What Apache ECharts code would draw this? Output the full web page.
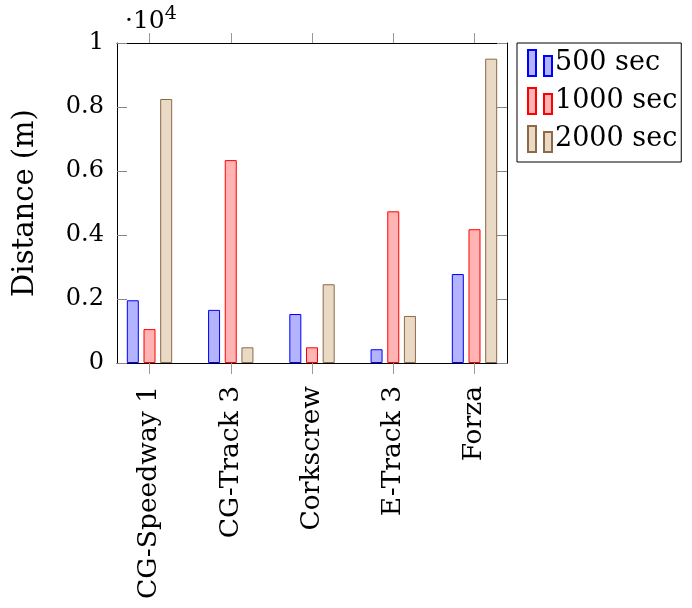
<!DOCTYPE html>
<html><head><meta charset="utf-8">
<script src="https://cdn.jsdelivr.net/npm/echarts@6/dist/echarts.min.js"></script>
<style>html,body{margin:0;padding:0;background:#fff}#c{width:692px;height:608px}</style>
</head><body><div id="c"></div>
<script>
const categories = ['CG-Speedway 1', 'CG-Track 3', 'Corkscrew', 'E-Track 3', 'Forza'];
const seriesNames = ['500 sec', '1000 sec', '2000 sec'];
const s500 = [1960, 1660, 1530, 430, 2780];
const s1000 = [1060, 6340, 490, 4740, 4180];
const s2000 = [8250, 490, 2460, 1470, 9510];
const yTicks = [0, 2000, 4000, 6000, 8000, 10000];

const FONT = 'DejaVu Serif';
const catIdx = categories.map((_, i) => i);
const fills = ['#b3b3ff', '#ffb3b3', '#ead9c4'];
const strokes = ['#0000ff', '#ff0000', '#8c6a48'];
const values = [s500, s1000, s2000];

const chart = echarts.init(document.getElementById('c'), null, {renderer: 'canvas'});
const xBase = {
  type: 'value', min: -0.4, max: 4.4,
  splitLine: {show: false},
  axisLine: {show: true, onZero: false, lineStyle: {color: '#000', width: 1}},
};
const yBase = {
  type: 'value', min: 0, max: 10000, interval: 2000,
  splitLine: {show: false},
  axisLine: {show: true, onZero: false, lineStyle: {color: '#000', width: 1}},
  axisTick: {show: true, inside: true, length: 10, lineStyle: {color: '#888'}},
};
chart.setOption({
  animation: false,
  grid: {left: 117, top: 43, width: 390, height: 320, containLabel: false},
  xAxis: [
    Object.assign({}, xBase, {
      position: 'bottom',
      axisTick: {show: true, inside: false, length: 11, customValues: catIdx, lineStyle: {color: '#999'}},
      axisLabel: {show: true, customValues: catIdx, rotate: 90, margin: 23,
        formatter: v => categories[Math.round(v)], fontFamily: FONT, fontSize: 26.5, color: '#000'}
    }),
    Object.assign({}, xBase, {
      position: 'top',
      axisTick: {show: true, inside: false, length: 10, customValues: catIdx, lineStyle: {color: '#999'}},
      axisLabel: {show: false}
    })
  ],
  yAxis: [
    Object.assign({}, yBase, {
      position: 'left',
      name: 'Distance (m)', nameLocation: 'middle', nameGap: 77, nameRotate: 90,
      nameTextStyle: {fontFamily: FONT, fontSize: 29, color: '#000'},
      axisLabel: {show: true, margin: 13, fontFamily: FONT, fontSize: 24, color: '#000',
        customValues: yTicks, formatter: v => String(v / 10000)}
    }),
    Object.assign({}, yBase, {position: 'right', axisLabel: {show: false}})
  ],
  legend: {
    orient: 'vertical', left: 517, top: 43,
    padding: [6, 4, 9, 10], itemGap: 10,
    borderColor: '#000', borderWidth: 1,
    itemWidth: 24, itemHeight: 26,
    icon: 'path://M0,0h8v26h-8z M16,6h8v20h-8z',
    textStyle: {fontFamily: FONT, fontSize: 27, color: '#000', padding: [0, 0, 0, -2]},
    data: seriesNames
  },
  graphic: [{
    type: 'text', left: 125, top: 5,
    style: {
      text: '{a|·10}{b|4}',
      rich: {
        a: {fontFamily: FONT, fontSize: 25, fill: '#000'},
        b: {fontFamily: FONT, fontSize: 19, fill: '#000', padding: [0, 0, 13, 0]}
      }
    }
  }],
  series: seriesNames.map((name, s) => ({
    name, type: 'bar', xAxisIndex: 0, yAxisIndex: 0,
    barWidth: 12, barGap: '39%',
    itemStyle: {color: fills[s], borderColor: strokes[s], borderWidth: 1},
    data: values[s].map((v, i) => [catIdx[i], v])
  }))
});
</script></body></html>
